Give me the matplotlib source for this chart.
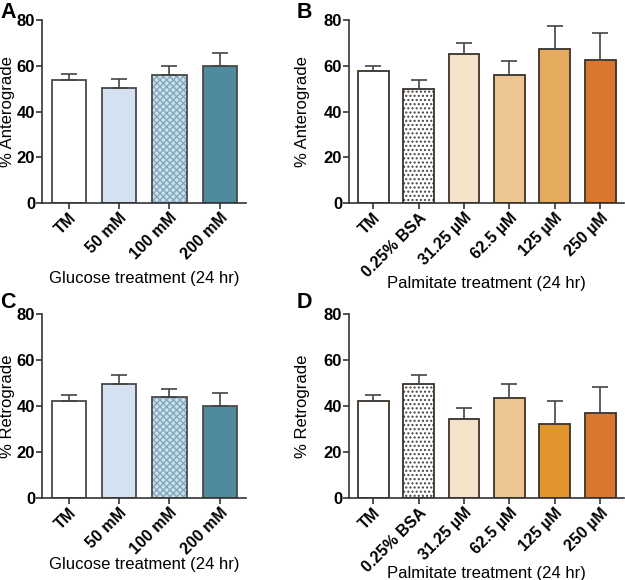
import numpy as np
import matplotlib
matplotlib.use("Agg")
import matplotlib.pyplot as plt

plt.rcParams['font.family'] = ['Liberation Sans', 'DejaVu Sans']
plt.rcParams['hatch.linewidth'] = 1.0

# glucose panels (A, C)
glu_labels = ["TM", "50 mM", "100 mM", "200 mM"]
glu_antero = [53.7, 50.1, 55.9, 59.7]
glu_antero_err = [2.9, 4.2, 4.0, 5.7]
glu_retro = [42.3, 49.6, 43.9, 40.1]
glu_retro_err = [2.5, 4.0, 3.8, 5.6]

# palmitate panels (B, D)
pal_labels = ["TM", "0.25% BSA", "31.25 µM", "62.5 µM", "125 µM", "250 µM"]
pal_antero = [57.7, 49.9, 65.1, 55.8, 67.3, 62.6]
pal_antero_err = [2.4, 4.0, 4.7, 6.1, 10.1, 11.7]
pal_retro = [42.3, 49.6, 34.6, 43.8, 32.5, 37.0]
pal_retro_err = [2.5, 3.9, 4.7, 6.1, 9.8, 11.4]

glu_face = ["white", "#d4e1f1", "#cfe0e8", "#4f8a9d"]
glu_hatch = [None, None, "xxxxx", None]
pal_face_B = ["white", "white", "#f4e2c9", "#ecc592", "#e4aa5d", "#d9772f"]
pal_face_D = ["white", "white", "#f4e2c9", "#ecc592", "#e1952f", "#d9772f"]
pal_hatch = [None, "....", None, None, None, None]

fig = plt.figure(figsize=(6.25, 5.8), dpi=100)


def panel(rect, labels, vals, errs, faces, hatches, edge, hcol, ylabel, xlabel, ypos, xl_y):
    ax = fig.add_axes(rect)
    x = np.arange(len(labels))
    bars = ax.bar(x, vals, width=0.68, color=faces, edgecolor=edge, linewidth=1.3,
                  yerr=[np.zeros(len(vals)), errs], capsize=6,
                  error_kw=dict(ecolor="#444444", elinewidth=1.2, capthick=1.2))
    for b, h in zip(bars, hatches):
        if h:
            b.set_hatch(h)
            b._hatch_color = matplotlib.colors.to_rgba(hcol[h])
    ax.set_ylim(0, 80)
    ax.set_yticks([0, 20, 40, 60, 80])
    ax.set_xlim(-0.53, len(labels) - 0.48)
    ax.set_xticks(x)
    ax.set_xticklabels(labels, rotation=45, ha="right", rotation_mode="anchor",
                       fontsize=11.5, fontweight="bold")
    for t in ax.get_yticklabels():
        t.set_fontsize(12)
        t.set_fontweight("bold")
    for s in ["top", "right"]:
        ax.spines[s].set_visible(False)
    for s in ["left", "bottom"]:
        ax.spines[s].set_color("#333333")
        ax.spines[s].set_linewidth(1.2)
    ax.tick_params(color="#333333", width=1.2, length=4, pad=1)
    ax.set_ylabel(ylabel, fontsize=12)
    ax.yaxis.set_label_coords(ypos, 0.5)
    ax.set_xlabel(xlabel, fontsize=12)
    ax.xaxis.set_label_coords(0.5, xl_y)
    return ax


hc = {"xxxxx": "#7fa9bf", "....": "#444444"}

panel([0.0672, 0.650, 0.3264, 0.3155], glu_labels, glu_antero, glu_antero_err,
      glu_face, glu_hatch, "#4a4a4a", hc, "% Anterograde", "Glucose treatment (24 hr)", -0.13, -0.37)
panel([0.5584, 0.650, 0.4400, 0.3155], pal_labels, pal_antero, pal_antero_err,
      pal_face_B, pal_hatch, "#3d3226", hc, "% Anterograde", "Palmitate treatment (24 hr)", -0.14, -0.40)
panel([0.0672, 0.1409, 0.3264, 0.3172], glu_labels, glu_retro, glu_retro_err,
      glu_face, glu_hatch, "#4a4a4a", hc, "% Retrograde", "Glucose treatment (24 hr)", -0.13, -0.32)
panel([0.5584, 0.1409, 0.4400, 0.3172], pal_labels, pal_retro, pal_retro_err,
      pal_face_D, pal_hatch, "#3d3226", hc, "% Retrograde", "Palmitate treatment (24 hr)", -0.14, -0.37)

for lab, xx, yy in [("A", 0.0, 0.997), ("B", 0.474, 0.997), ("C", 0.0, 0.497), ("D", 0.474, 0.497)]:
    fig.text(xx, yy, lab, fontsize=15.5, fontweight="bold", va="top", ha="left")

fig.savefig("out.png", dpi=100)
